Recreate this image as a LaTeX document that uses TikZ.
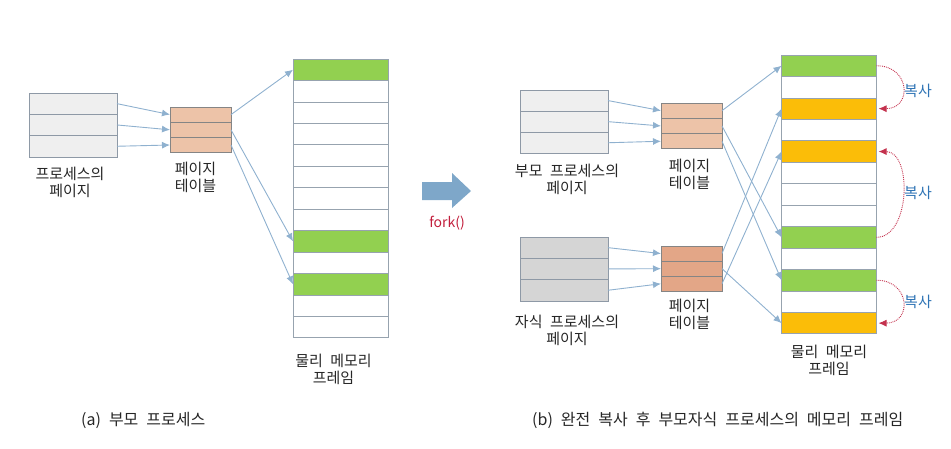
\documentclass[tikz,border=0pt]{standalone}
\usepackage{fontspec}
\setmainfont{Noto Sans CJK KR}
\usepackage{xcolor}
\usepackage{tikz}
\usetikzlibrary{positioning, arrows.meta, calc}

\definecolor{procfill}{HTML}{EFEFEF}
\definecolor{childfill}{HTML}{D5D5D5}
\definecolor{procline}{HTML}{8E99A6}
\definecolor{tablefill}{HTML}{EDC3A8}
\definecolor{childtable}{HTML}{E3A687}
\definecolor{tableline}{HTML}{858585}
\definecolor{framegreen}{HTML}{92D050}
\definecolor{frameorange}{HTML}{FBBD08}
\definecolor{frameline}{HTML}{97A3AF}
\definecolor{linkblue}{HTML}{8FB1CF}
\definecolor{bigarrow}{HTML}{7EA7C9}
\definecolor{forkred}{HTML}{C21E3C}
\definecolor{copyred}{HTML}{C4324E}
\definecolor{copyblue}{HTML}{2F74B5}
\definecolor{textgray}{HTML}{262626}

\newcommand{\widespaces}{\spaceskip=0.5em\relax}

\begin{document}
\begin{tikzpicture}[x=1pt, y=-1pt,
      every node/.style={font=\fontsize{15}{17}\selectfont, text=textgray},
      pagerow/.style={draw=procline, fill=procfill, line width=0.8pt, minimum width=88pt, minimum height=21.3pt, inner sep=0pt, outer sep=0pt},
      tablerow/.style={draw=tableline, fill=tablefill, line width=0.8pt, minimum width=61pt, minimum height=15.2pt, inner sep=0pt, outer sep=0pt},
      framerow/.style={draw=frameline, line width=0.8pt, minimum width=95pt, minimum height=21.45pt, inner sep=0pt, outer sep=0pt},
      link/.style={draw=linkblue, line width=0.9pt, -{Latex[length=8pt, width=7pt]}},
      copyarc/.style={draw=copyred, densely dotted, line width=0.9pt, -{Latex[length=8pt, width=7pt]}},
      caption/.style={align=center, inner sep=0pt},
      copylabel/.style={text=copyblue, font=\fontsize{15}{17}\selectfont},
      bottomcap/.style={anchor=west, inner sep=0pt, font=\fontsize{16}{19}\selectfont}]

      \useasboundingbox (0,0) rectangle (951,448);

      % (a) Parent process
      \foreach \i in {0,1,2} {
        \node[pagerow] (lp\i) at (73, {93+21.3*(\i+0.5)}) {};
        \node[tablerow] (lt\i) at (200.5, {107+15.2*(\i+0.5)}) {};
      }
      \foreach \c [count=\i from 0] in {framegreen, white, white, white, white, white, white, white, framegreen, white, framegreen, white, white} {
        \node[framerow, fill=\c] (lm\i) at (340.5, {59+21.45*(\i+0.5)}) {};
      }
      \foreach \i in {0,1,2} {
        \draw[link] (lp\i.east) -- (lt\i.west);
      }
      \draw[link] (lt0.east) -- (lm0.west);
      \draw[link] (lt1.east) -- (lm8.west);
      \draw[link] (lt2.east) -- (lm10.west);

      \node[caption, below=10pt of lp2, xshift=-3pt] (lplabel) {프로세스의\\페이지};
      \node[caption, below=9pt of lt2, xshift=-5pt] (ltlabel) {페이지\\테이블};
      \node[caption, below=16pt of lm12, xshift=-7pt] (lmlabel) {\widespaces 물리 메모리\\프레임};

      % fork
      \fill[bigarrow] (422,182) -- (452,182) -- (452,173) -- (471,191) -- (452,208) -- (452,200) -- (422,200) -- cycle;
      \node[text=forkred, font=\fontsize{14}{16}\selectfont] (fork) at (447,223) {fork()};

      % (b) Parent and child after full copy
      \foreach \i in {0,1,2} {
        \node[pagerow] (pp\i) at (564, {90+21.1*(\i+0.5)}) {};
        \node[pagerow, fill=childfill] (cp\i) at (564, {237+21.3*(\i+0.5)}) {};
        \node[tablerow] (pt\i) at (691.5, {103+15.3*(\i+0.5)}) {};
        \node[tablerow, fill=childtable] (ct\i) at (691.5, {246+15.1*(\i+0.5)}) {};
      }
      \foreach \c [count=\i from 0] in {framegreen, white, frameorange, white, frameorange, white, white, white, framegreen, white, framegreen, white, frameorange} {
        \node[framerow, fill=\c] (rm\i) at (829, {55+21.45*(\i+0.5)}) {};
      }
      \foreach \i in {0,1,2} {
        \draw[link] (pp\i.east) -- (pt\i.west);
        \draw[link] (cp\i.east) -- (ct\i.west);
      }
      \draw[link] (pt0.east) -- (rm0.west);
      \draw[link] (pt1.east) -- (rm8.west);
      \draw[link] (pt2.east) -- (rm10.west);
      \draw[link] (ct0.east) -- (rm2.west);
      \draw[link] (ct1.east) -- (rm12.west);
      \draw[link] (ct2.east) -- (rm4.west);

      % copy arcs
      \draw[copyarc] (rm0.east) .. controls +(34,0) and +(34,0) .. ($(rm2.east)+(2,0)$);
      \draw[copyarc] (rm8.east) .. controls +(34,0) and +(34,0) .. ($(rm4.east)+(2,0)$);
      \draw[copyarc] (rm10.east) .. controls +(34,0) and +(34,0) .. ($(rm12.east)+(2,0)$);
      \node[copylabel] (copy0) at (918,91) {복사};
      \node[copylabel] (copy1) at (918,193) {복사};
      \node[copylabel] (copy2) at (918,302) {복사};

      \node[caption, below=10pt of pp2, xshift=3pt] (pplabel) {\widespaces 부모 프로세스의\\페이지};
      \node[caption, below=14pt of cp2, xshift=3pt] (cplabel) {\widespaces 자식 프로세스의\\페이지};
      \node[caption, below=10pt of pt2, xshift=-2pt] (ptlabel) {페이지\\테이블};
      \node[caption, below=8pt of ct2, xshift=-2pt] (ctlabel) {페이지\\테이블};
      \node[caption, below=11pt of rm12] (rmlabel) {\widespaces 물리 메모리\\프레임};

      % Captions
      \node[bottomcap] (capa) at (81,420) {\widespaces (a) 부모 프로세스};
      \node[bottomcap] (capb) at (532,420) {\widespaces (b) 완전 복사 후 부모자식 프로세스의 메모리 프레임};
    \end{tikzpicture}
\end{document}
